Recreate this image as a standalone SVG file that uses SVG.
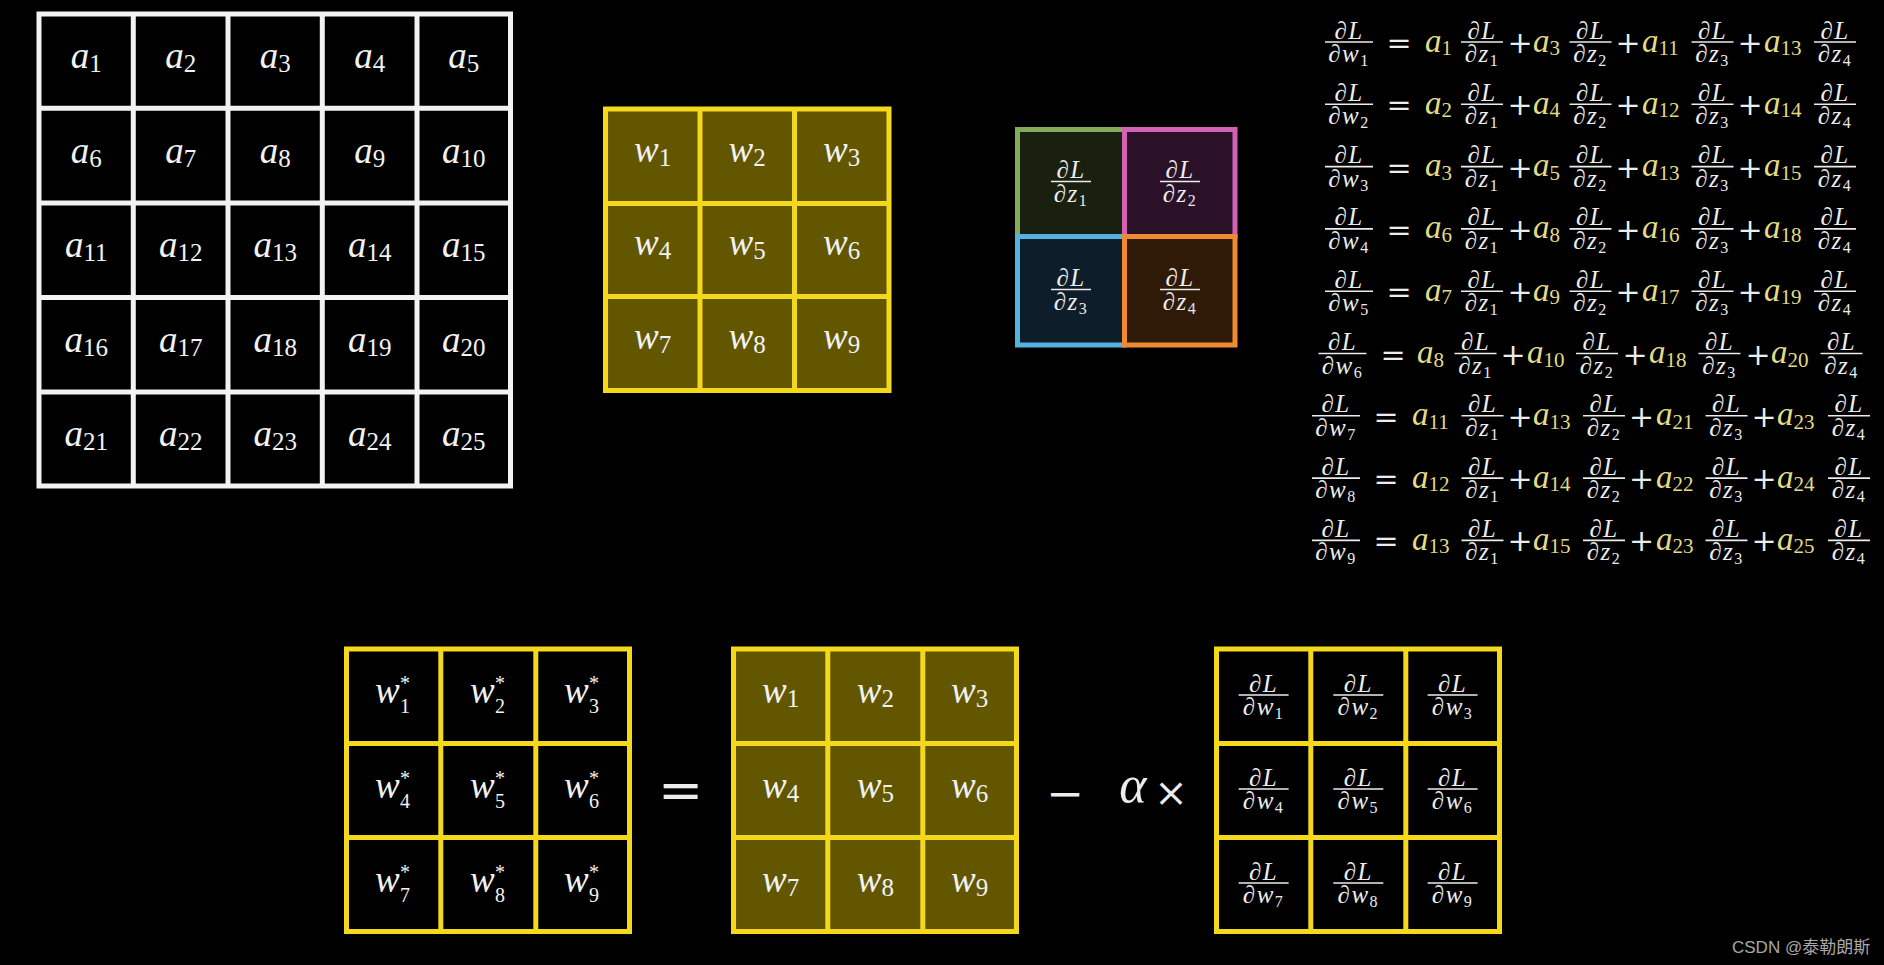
<svg xmlns="http://www.w3.org/2000/svg" width="1884" height="965" viewBox="0 0 1884 965">
<style>
.gl{font-family:"Liberation Serif","Times New Roman",serif;font-style:italic;font-size:37px;fill:#f2f2f2;text-anchor:middle}
.st{text-anchor:start}
.gs{font-style:normal;font-size:25px}
.ast{font-style:normal;font-size:20px}
.sd{font-style:normal;font-size:20px}
.fn,.fd{font-family:"Liberation Serif","Times New Roman",serif;font-style:italic;font-size:25px;fill:#ececec;text-anchor:middle;letter-spacing:1.5px}
.fs{font-style:normal;font-size:16px}
.fl{stroke:#ececec;stroke-width:1.6}
.at{font-family:"Liberation Serif","Times New Roman",serif;font-style:italic;font-size:33px;fill:#e2dc86}
.as{font-style:normal;font-size:21px}
.op{font-family:"DejaVu Serif",serif;font-size:30px;fill:#ececec;text-anchor:middle}
.yg{stroke:#f4d81c;stroke-width:5;fill:none}
.ol{fill:#625700}
.wg{stroke:#f2f2f2;stroke-width:5;fill:none}
</style>
<rect width="1884" height="965" fill="#000"/>

<!-- A grid 5x5 -->
<g id="a-grid">
<rect x="39" y="14" width="471.5" height="472" fill="#000"/>
<path class="wg" d="M39 14H510.5V486H39Z M133.3 14V486 M228 14V486 M322.3 14V486 M417 14V486 M39 108.3H510.5 M39 203H510.5 M39 297.5H510.5 M39 392H510.5"/>
<g class="gl">
<text x="86.2" y="68">a<tspan class="gs" dy="4">1</tspan></text>
<text x="180.7" y="68">a<tspan class="gs" dy="4">2</tspan></text>
<text x="275.2" y="68">a<tspan class="gs" dy="4">3</tspan></text>
<text x="369.7" y="68">a<tspan class="gs" dy="4">4</tspan></text>
<text x="463.8" y="68">a<tspan class="gs" dy="4">5</tspan></text>
<text x="86.2" y="162.7">a<tspan class="gs" dy="4">6</tspan></text>
<text x="180.7" y="162.7">a<tspan class="gs" dy="4">7</tspan></text>
<text x="275.2" y="162.7">a<tspan class="gs" dy="4">8</tspan></text>
<text x="369.7" y="162.7">a<tspan class="gs" dy="4">9</tspan></text>
<text x="463.8" y="162.7">a<tspan class="gs" dy="4">10</tspan></text>
<text x="86.2" y="257.3">a<tspan class="gs" dy="4">11</tspan></text>
<text x="180.7" y="257.3">a<tspan class="gs" dy="4">12</tspan></text>
<text x="275.2" y="257.3">a<tspan class="gs" dy="4">13</tspan></text>
<text x="369.7" y="257.3">a<tspan class="gs" dy="4">14</tspan></text>
<text x="463.8" y="257.3">a<tspan class="gs" dy="4">15</tspan></text>
<text x="86.2" y="351.8">a<tspan class="gs" dy="4">16</tspan></text>
<text x="180.7" y="351.8">a<tspan class="gs" dy="4">17</tspan></text>
<text x="275.2" y="351.8">a<tspan class="gs" dy="4">18</tspan></text>
<text x="369.7" y="351.8">a<tspan class="gs" dy="4">19</tspan></text>
<text x="463.8" y="351.8">a<tspan class="gs" dy="4">20</tspan></text>
<text x="86.2" y="446">a<tspan class="gs" dy="4">21</tspan></text>
<text x="180.7" y="446">a<tspan class="gs" dy="4">22</tspan></text>
<text x="275.2" y="446">a<tspan class="gs" dy="4">23</tspan></text>
<text x="369.7" y="446">a<tspan class="gs" dy="4">24</tspan></text>
<text x="463.8" y="446">a<tspan class="gs" dy="4">25</tspan></text>
</g>
</g>

<!-- W grid top -->
<g id="w-grid-top">
<rect class="ol" x="605.5" y="109" width="283.5" height="281.5"/>
<path class="yg" d="M605.5 109H889V390.5H605.5Z M700 109V390.5 M794.5 109V390.5 M605.5 203.5H889 M605.5 296.5H889"/>
<g class="gl">
<text x="652.7" y="161.5">w<tspan class="gs" dy="4">1</tspan></text>
<text x="747.2" y="161.5">w<tspan class="gs" dy="4">2</tspan></text>
<text x="841.7" y="161.5">w<tspan class="gs" dy="4">3</tspan></text>
<text x="652.7" y="255">w<tspan class="gs" dy="4">4</tspan></text>
<text x="747.2" y="255">w<tspan class="gs" dy="4">5</tspan></text>
<text x="841.7" y="255">w<tspan class="gs" dy="4">6</tspan></text>
<text x="652.7" y="348.5">w<tspan class="gs" dy="4">7</tspan></text>
<text x="747.2" y="348.5">w<tspan class="gs" dy="4">8</tspan></text>
<text x="841.7" y="348.5">w<tspan class="gs" dy="4">9</tspan></text>
</g>
</g>

<!-- dL/dz grid -->
<g id="dz-grid">
<rect x="1017.5" y="129.5" width="107" height="107" fill="#19200f" stroke="#84aa5c" stroke-width="5"/>
<rect x="1124.5" y="129.5" width="110.5" height="107" fill="#2a1127" stroke="#d262b4" stroke-width="5"/>
<rect x="1017.5" y="236.5" width="107" height="108.5" fill="#0d1e2a" stroke="#55b2e0" stroke-width="5"/>
<rect x="1124.5" y="236.5" width="110.5" height="108.5" fill="#2f1a08" stroke="#f08a30" stroke-width="5"/>
<g transform="translate(1071 181.5)"><text class="fn" y="-3.5">∂L</text><line class="fl" x1="-20" x2="20"/><text class="fd" y="20">∂z<tspan class="fs" dy="4">1</tspan></text></g>
<g transform="translate(1180 181.5)"><text class="fn" y="-3.5">∂L</text><line class="fl" x1="-20" x2="20"/><text class="fd" y="20">∂z<tspan class="fs" dy="4">2</tspan></text></g>
<g transform="translate(1071 289.5)"><text class="fn" y="-3.5">∂L</text><line class="fl" x1="-20" x2="20"/><text class="fd" y="20">∂z<tspan class="fs" dy="4">3</tspan></text></g>
<g transform="translate(1180 289.5)"><text class="fn" y="-3.5">∂L</text><line class="fl" x1="-20" x2="20"/><text class="fd" y="20">∂z<tspan class="fs" dy="4">4</tspan></text></g>
</g>

<!-- Equations -->
<g id="equations">
<g id="eq1" transform="translate(0 42)">
<g transform="translate(1349 0)"><text class="fn" y="-3.5">∂L</text><line class="fl" x1="-24" x2="24"/><text class="fd" y="20">∂w<tspan class="fs" dy="4">1</tspan></text></g>
<text class="op" x="1399" y="11">=</text>
<text class="at" x="1425" y="9.5">a<tspan class="as" dy="3.5">1</tspan></text>
<g transform="translate(1482 0)"><text class="fn" y="-3.5">∂L</text><line class="fl" x1="-21" x2="21"/><text class="fd" y="20">∂z<tspan class="fs" dy="4">1</tspan></text></g>
<text class="op" x="1520" y="11">+</text>
<text class="at" x="1533" y="9.5">a<tspan class="as" dy="3.5">3</tspan></text>
<g transform="translate(1590.5 0)"><text class="fn" y="-3.5">∂L</text><line class="fl" x1="-21" x2="21"/><text class="fd" y="20">∂z<tspan class="fs" dy="4">2</tspan></text></g>
<text class="op" x="1628" y="11">+</text>
<text class="at" x="1642" y="9.5">a<tspan class="as" dy="3.5">11</tspan></text>
<g transform="translate(1712.5 0)"><text class="fn" y="-3.5">∂L</text><line class="fl" x1="-21" x2="21"/><text class="fd" y="20">∂z<tspan class="fs" dy="4">3</tspan></text></g>
<text class="op" x="1750" y="11">+</text>
<text class="at" x="1764" y="9.5">a<tspan class="as" dy="3.5">13</tspan></text>
<g transform="translate(1835 0)"><text class="fn" y="-3.5">∂L</text><line class="fl" x1="-21" x2="21"/><text class="fd" y="20">∂z<tspan class="fs" dy="4">4</tspan></text></g>
</g>
<g id="eq2" transform="translate(0 104.3)">
<g transform="translate(1349 0)"><text class="fn" y="-3.5">∂L</text><line class="fl" x1="-24" x2="24"/><text class="fd" y="20">∂w<tspan class="fs" dy="4">2</tspan></text></g>
<text class="op" x="1399" y="11">=</text>
<text class="at" x="1425" y="9.5">a<tspan class="as" dy="3.5">2</tspan></text>
<g transform="translate(1482 0)"><text class="fn" y="-3.5">∂L</text><line class="fl" x1="-21" x2="21"/><text class="fd" y="20">∂z<tspan class="fs" dy="4">1</tspan></text></g>
<text class="op" x="1520" y="11">+</text>
<text class="at" x="1533" y="9.5">a<tspan class="as" dy="3.5">4</tspan></text>
<g transform="translate(1590.5 0)"><text class="fn" y="-3.5">∂L</text><line class="fl" x1="-21" x2="21"/><text class="fd" y="20">∂z<tspan class="fs" dy="4">2</tspan></text></g>
<text class="op" x="1628" y="11">+</text>
<text class="at" x="1642" y="9.5">a<tspan class="as" dy="3.5">12</tspan></text>
<g transform="translate(1712.5 0)"><text class="fn" y="-3.5">∂L</text><line class="fl" x1="-21" x2="21"/><text class="fd" y="20">∂z<tspan class="fs" dy="4">3</tspan></text></g>
<text class="op" x="1750" y="11">+</text>
<text class="at" x="1764" y="9.5">a<tspan class="as" dy="3.5">14</tspan></text>
<g transform="translate(1835 0)"><text class="fn" y="-3.5">∂L</text><line class="fl" x1="-21" x2="21"/><text class="fd" y="20">∂z<tspan class="fs" dy="4">4</tspan></text></g>
</g>
<g id="eq3" transform="translate(0 166.6)">
<g transform="translate(1349 0)"><text class="fn" y="-3.5">∂L</text><line class="fl" x1="-24" x2="24"/><text class="fd" y="20">∂w<tspan class="fs" dy="4">3</tspan></text></g>
<text class="op" x="1399" y="11">=</text>
<text class="at" x="1425" y="9.5">a<tspan class="as" dy="3.5">3</tspan></text>
<g transform="translate(1482 0)"><text class="fn" y="-3.5">∂L</text><line class="fl" x1="-21" x2="21"/><text class="fd" y="20">∂z<tspan class="fs" dy="4">1</tspan></text></g>
<text class="op" x="1520" y="11">+</text>
<text class="at" x="1533" y="9.5">a<tspan class="as" dy="3.5">5</tspan></text>
<g transform="translate(1590.5 0)"><text class="fn" y="-3.5">∂L</text><line class="fl" x1="-21" x2="21"/><text class="fd" y="20">∂z<tspan class="fs" dy="4">2</tspan></text></g>
<text class="op" x="1628" y="11">+</text>
<text class="at" x="1642" y="9.5">a<tspan class="as" dy="3.5">13</tspan></text>
<g transform="translate(1712.5 0)"><text class="fn" y="-3.5">∂L</text><line class="fl" x1="-21" x2="21"/><text class="fd" y="20">∂z<tspan class="fs" dy="4">3</tspan></text></g>
<text class="op" x="1750" y="11">+</text>
<text class="at" x="1764" y="9.5">a<tspan class="as" dy="3.5">15</tspan></text>
<g transform="translate(1835 0)"><text class="fn" y="-3.5">∂L</text><line class="fl" x1="-21" x2="21"/><text class="fd" y="20">∂z<tspan class="fs" dy="4">4</tspan></text></g>
</g>
<g id="eq4" transform="translate(0 228.9)">
<g transform="translate(1349 0)"><text class="fn" y="-3.5">∂L</text><line class="fl" x1="-24" x2="24"/><text class="fd" y="20">∂w<tspan class="fs" dy="4">4</tspan></text></g>
<text class="op" x="1399" y="11">=</text>
<text class="at" x="1425" y="9.5">a<tspan class="as" dy="3.5">6</tspan></text>
<g transform="translate(1482 0)"><text class="fn" y="-3.5">∂L</text><line class="fl" x1="-21" x2="21"/><text class="fd" y="20">∂z<tspan class="fs" dy="4">1</tspan></text></g>
<text class="op" x="1520" y="11">+</text>
<text class="at" x="1533" y="9.5">a<tspan class="as" dy="3.5">8</tspan></text>
<g transform="translate(1590.5 0)"><text class="fn" y="-3.5">∂L</text><line class="fl" x1="-21" x2="21"/><text class="fd" y="20">∂z<tspan class="fs" dy="4">2</tspan></text></g>
<text class="op" x="1628" y="11">+</text>
<text class="at" x="1642" y="9.5">a<tspan class="as" dy="3.5">16</tspan></text>
<g transform="translate(1712.5 0)"><text class="fn" y="-3.5">∂L</text><line class="fl" x1="-21" x2="21"/><text class="fd" y="20">∂z<tspan class="fs" dy="4">3</tspan></text></g>
<text class="op" x="1750" y="11">+</text>
<text class="at" x="1764" y="9.5">a<tspan class="as" dy="3.5">18</tspan></text>
<g transform="translate(1835 0)"><text class="fn" y="-3.5">∂L</text><line class="fl" x1="-21" x2="21"/><text class="fd" y="20">∂z<tspan class="fs" dy="4">4</tspan></text></g>
</g>
<g id="eq5" transform="translate(0 291.2)">
<g transform="translate(1349 0)"><text class="fn" y="-3.5">∂L</text><line class="fl" x1="-24" x2="24"/><text class="fd" y="20">∂w<tspan class="fs" dy="4">5</tspan></text></g>
<text class="op" x="1399" y="11">=</text>
<text class="at" x="1425" y="9.5">a<tspan class="as" dy="3.5">7</tspan></text>
<g transform="translate(1482 0)"><text class="fn" y="-3.5">∂L</text><line class="fl" x1="-21" x2="21"/><text class="fd" y="20">∂z<tspan class="fs" dy="4">1</tspan></text></g>
<text class="op" x="1520" y="11">+</text>
<text class="at" x="1533" y="9.5">a<tspan class="as" dy="3.5">9</tspan></text>
<g transform="translate(1590.5 0)"><text class="fn" y="-3.5">∂L</text><line class="fl" x1="-21" x2="21"/><text class="fd" y="20">∂z<tspan class="fs" dy="4">2</tspan></text></g>
<text class="op" x="1628" y="11">+</text>
<text class="at" x="1642" y="9.5">a<tspan class="as" dy="3.5">17</tspan></text>
<g transform="translate(1712.5 0)"><text class="fn" y="-3.5">∂L</text><line class="fl" x1="-21" x2="21"/><text class="fd" y="20">∂z<tspan class="fs" dy="4">3</tspan></text></g>
<text class="op" x="1750" y="11">+</text>
<text class="at" x="1764" y="9.5">a<tspan class="as" dy="3.5">19</tspan></text>
<g transform="translate(1835 0)"><text class="fn" y="-3.5">∂L</text><line class="fl" x1="-21" x2="21"/><text class="fd" y="20">∂z<tspan class="fs" dy="4">4</tspan></text></g>
</g>
<g id="eq6" transform="translate(0 353.5)">
<g transform="translate(1342.5 0)"><text class="fn" y="-3.5">∂L</text><line class="fl" x1="-24" x2="24"/><text class="fd" y="20">∂w<tspan class="fs" dy="4">6</tspan></text></g>
<text class="op" x="1393" y="11">=</text>
<text class="at" x="1417" y="9.5">a<tspan class="as" dy="3.5">8</tspan></text>
<g transform="translate(1475.5 0)"><text class="fn" y="-3.5">∂L</text><line class="fl" x1="-21" x2="21"/><text class="fd" y="20">∂z<tspan class="fs" dy="4">1</tspan></text></g>
<text class="op" x="1513" y="11">+</text>
<text class="at" x="1527" y="9.5">a<tspan class="as" dy="3.5">10</tspan></text>
<g transform="translate(1597 0)"><text class="fn" y="-3.5">∂L</text><line class="fl" x1="-21" x2="21"/><text class="fd" y="20">∂z<tspan class="fs" dy="4">2</tspan></text></g>
<text class="op" x="1635" y="11">+</text>
<text class="at" x="1649" y="9.5">a<tspan class="as" dy="3.5">18</tspan></text>
<g transform="translate(1719.5 0)"><text class="fn" y="-3.5">∂L</text><line class="fl" x1="-21" x2="21"/><text class="fd" y="20">∂z<tspan class="fs" dy="4">3</tspan></text></g>
<text class="op" x="1758" y="11">+</text>
<text class="at" x="1771" y="9.5">a<tspan class="as" dy="3.5">20</tspan></text>
<g transform="translate(1841.5 0)"><text class="fn" y="-3.5">∂L</text><line class="fl" x1="-21" x2="21"/><text class="fd" y="20">∂z<tspan class="fs" dy="4">4</tspan></text></g>
</g>
<g id="eq7" transform="translate(0 415.8)">
<g transform="translate(1336 0)"><text class="fn" y="-3.5">∂L</text><line class="fl" x1="-24" x2="24"/><text class="fd" y="20">∂w<tspan class="fs" dy="4">7</tspan></text></g>
<text class="op" x="1386" y="11">=</text>
<text class="at" x="1412" y="9.5">a<tspan class="as" dy="3.5">11</tspan></text>
<g transform="translate(1482.5 0)"><text class="fn" y="-3.5">∂L</text><line class="fl" x1="-21" x2="21"/><text class="fd" y="20">∂z<tspan class="fs" dy="4">1</tspan></text></g>
<text class="op" x="1520" y="11">+</text>
<text class="at" x="1533" y="9.5">a<tspan class="as" dy="3.5">13</tspan></text>
<g transform="translate(1604 0)"><text class="fn" y="-3.5">∂L</text><line class="fl" x1="-21" x2="21"/><text class="fd" y="20">∂z<tspan class="fs" dy="4">2</tspan></text></g>
<text class="op" x="1641.5" y="11">+</text>
<text class="at" x="1656" y="9.5">a<tspan class="as" dy="3.5">21</tspan></text>
<g transform="translate(1726.5 0)"><text class="fn" y="-3.5">∂L</text><line class="fl" x1="-21" x2="21"/><text class="fd" y="20">∂z<tspan class="fs" dy="4">3</tspan></text></g>
<text class="op" x="1764" y="11">+</text>
<text class="at" x="1777" y="9.5">a<tspan class="as" dy="3.5">23</tspan></text>
<g transform="translate(1849 0)"><text class="fn" y="-3.5">∂L</text><line class="fl" x1="-21" x2="21"/><text class="fd" y="20">∂z<tspan class="fs" dy="4">4</tspan></text></g>
</g>
<g id="eq8" transform="translate(0 478.1)">
<g transform="translate(1336 0)"><text class="fn" y="-3.5">∂L</text><line class="fl" x1="-24" x2="24"/><text class="fd" y="20">∂w<tspan class="fs" dy="4">8</tspan></text></g>
<text class="op" x="1386" y="11">=</text>
<text class="at" x="1412" y="9.5">a<tspan class="as" dy="3.5">12</tspan></text>
<g transform="translate(1482.5 0)"><text class="fn" y="-3.5">∂L</text><line class="fl" x1="-21" x2="21"/><text class="fd" y="20">∂z<tspan class="fs" dy="4">1</tspan></text></g>
<text class="op" x="1520" y="11">+</text>
<text class="at" x="1533" y="9.5">a<tspan class="as" dy="3.5">14</tspan></text>
<g transform="translate(1604 0)"><text class="fn" y="-3.5">∂L</text><line class="fl" x1="-21" x2="21"/><text class="fd" y="20">∂z<tspan class="fs" dy="4">2</tspan></text></g>
<text class="op" x="1641.5" y="11">+</text>
<text class="at" x="1656" y="9.5">a<tspan class="as" dy="3.5">22</tspan></text>
<g transform="translate(1726.5 0)"><text class="fn" y="-3.5">∂L</text><line class="fl" x1="-21" x2="21"/><text class="fd" y="20">∂z<tspan class="fs" dy="4">3</tspan></text></g>
<text class="op" x="1764" y="11">+</text>
<text class="at" x="1777" y="9.5">a<tspan class="as" dy="3.5">24</tspan></text>
<g transform="translate(1849 0)"><text class="fn" y="-3.5">∂L</text><line class="fl" x1="-21" x2="21"/><text class="fd" y="20">∂z<tspan class="fs" dy="4">4</tspan></text></g>
</g>
<g id="eq9" transform="translate(0 540.4)">
<g transform="translate(1336 0)"><text class="fn" y="-3.5">∂L</text><line class="fl" x1="-24" x2="24"/><text class="fd" y="20">∂w<tspan class="fs" dy="4">9</tspan></text></g>
<text class="op" x="1386" y="11">=</text>
<text class="at" x="1412" y="9.5">a<tspan class="as" dy="3.5">13</tspan></text>
<g transform="translate(1482.5 0)"><text class="fn" y="-3.5">∂L</text><line class="fl" x1="-21" x2="21"/><text class="fd" y="20">∂z<tspan class="fs" dy="4">1</tspan></text></g>
<text class="op" x="1520" y="11">+</text>
<text class="at" x="1533" y="9.5">a<tspan class="as" dy="3.5">15</tspan></text>
<g transform="translate(1604 0)"><text class="fn" y="-3.5">∂L</text><line class="fl" x1="-21" x2="21"/><text class="fd" y="20">∂z<tspan class="fs" dy="4">2</tspan></text></g>
<text class="op" x="1641.5" y="11">+</text>
<text class="at" x="1656" y="9.5">a<tspan class="as" dy="3.5">23</tspan></text>
<g transform="translate(1726.5 0)"><text class="fn" y="-3.5">∂L</text><line class="fl" x1="-21" x2="21"/><text class="fd" y="20">∂z<tspan class="fs" dy="4">3</tspan></text></g>
<text class="op" x="1764" y="11">+</text>
<text class="at" x="1777" y="9.5">a<tspan class="as" dy="3.5">25</tspan></text>
<g transform="translate(1849 0)"><text class="fn" y="-3.5">∂L</text><line class="fl" x1="-21" x2="21"/><text class="fd" y="20">∂z<tspan class="fs" dy="4">4</tspan></text></g>
</g>
</g>

<!-- W* grid -->
<g id="wstar-grid">
<rect x="346.5" y="649" width="283" height="282.5" fill="#000"/>
<path class="yg" d="M346.5 649H629.5V931.5H346.5Z M440.8 649V931.5 M535.8 649V931.5 M346.5 743.5H629.5 M346.5 837.5H629.5"/>
<g class="gl st">
<text y="703"><tspan x="375">w</tspan><tspan class="ast" x="400" y="690">*</tspan><tspan class="sd" x="400" y="713">1</tspan></text>
<text y="703"><tspan x="470">w</tspan><tspan class="ast" x="495" y="690">*</tspan><tspan class="sd" x="495" y="713">2</tspan></text>
<text y="703"><tspan x="564">w</tspan><tspan class="ast" x="589" y="690">*</tspan><tspan class="sd" x="589" y="713">3</tspan></text>
<text y="797.5"><tspan x="375">w</tspan><tspan class="ast" x="400" y="784.5">*</tspan><tspan class="sd" x="400" y="807.5">4</tspan></text>
<text y="797.5"><tspan x="470">w</tspan><tspan class="ast" x="495" y="784.5">*</tspan><tspan class="sd" x="495" y="807.5">5</tspan></text>
<text y="797.5"><tspan x="564">w</tspan><tspan class="ast" x="589" y="784.5">*</tspan><tspan class="sd" x="589" y="807.5">6</tspan></text>
<text y="891.5"><tspan x="375">w</tspan><tspan class="ast" x="400" y="878.5">*</tspan><tspan class="sd" x="400" y="901.5">7</tspan></text>
<text y="891.5"><tspan x="470">w</tspan><tspan class="ast" x="495" y="878.5">*</tspan><tspan class="sd" x="495" y="901.5">8</tspan></text>
<text y="891.5"><tspan x="564">w</tspan><tspan class="ast" x="589" y="878.5">*</tspan><tspan class="sd" x="589" y="901.5">9</tspan></text>
</g>
</g>

<g id="equals"><text class="op" x="680.5" y="809" style="font-size:54px">=</text></g>

<!-- W grid bottom -->
<g id="w-grid-bottom">
<rect class="ol" x="733.5" y="649" width="283" height="282.5"/>
<path class="yg" d="M733.5 649H1016.5V931.5H733.5Z M827.8 649V931.5 M922.8 649V931.5 M733.5 743.5H1016.5 M733.5 837.5H1016.5"/>
<g class="gl">
<text x="780.6" y="703">w<tspan class="gs" dy="4">1</tspan></text>
<text x="875.3" y="703">w<tspan class="gs" dy="4">2</tspan></text>
<text x="969.6" y="703">w<tspan class="gs" dy="4">3</tspan></text>
<text x="780.6" y="797.5">w<tspan class="gs" dy="4">4</tspan></text>
<text x="875.3" y="797.5">w<tspan class="gs" dy="4">5</tspan></text>
<text x="969.6" y="797.5">w<tspan class="gs" dy="4">6</tspan></text>
<text x="780.6" y="891.5">w<tspan class="gs" dy="4">7</tspan></text>
<text x="875.3" y="891.5">w<tspan class="gs" dy="4">8</tspan></text>
<text x="969.6" y="891.5">w<tspan class="gs" dy="4">9</tspan></text>
</g>
</g>

<g id="minus-alpha">
<text class="op" x="1065" y="809" style="font-size:45px">−</text>
<text x="1133" y="802" style="font-family:'Liberation Serif','Times New Roman',serif;font-style:italic;font-size:52px;fill:#ececec;text-anchor:middle">α</text>
<text class="op" x="1171" y="806" style="font-size:40px">×</text>
</g>

<!-- dL/dw grid -->
<g id="dw-grid">
<rect x="1216.5" y="649" width="283" height="282.5" fill="#000"/>
<path class="yg" d="M1216.5 649H1499.5V931.5H1216.5Z M1310.8 649V931.5 M1405.8 649V931.5 M1216.5 743.5H1499.5 M1216.5 837.5H1499.5"/>
<g transform="translate(1263.6 695)"><text class="fn" y="-3.5">∂L</text><line class="fl" x1="-25" x2="25"/><text class="fd" y="20">∂w<tspan class="fs" dy="4">1</tspan></text></g>
<g transform="translate(1358.3 695)"><text class="fn" y="-3.5">∂L</text><line class="fl" x1="-25" x2="25"/><text class="fd" y="20">∂w<tspan class="fs" dy="4">2</tspan></text></g>
<g transform="translate(1452.6 695)"><text class="fn" y="-3.5">∂L</text><line class="fl" x1="-25" x2="25"/><text class="fd" y="20">∂w<tspan class="fs" dy="4">3</tspan></text></g>
<g transform="translate(1263.6 789)"><text class="fn" y="-3.5">∂L</text><line class="fl" x1="-25" x2="25"/><text class="fd" y="20">∂w<tspan class="fs" dy="4">4</tspan></text></g>
<g transform="translate(1358.3 789)"><text class="fn" y="-3.5">∂L</text><line class="fl" x1="-25" x2="25"/><text class="fd" y="20">∂w<tspan class="fs" dy="4">5</tspan></text></g>
<g transform="translate(1452.6 789)"><text class="fn" y="-3.5">∂L</text><line class="fl" x1="-25" x2="25"/><text class="fd" y="20">∂w<tspan class="fs" dy="4">6</tspan></text></g>
<g transform="translate(1263.6 883)"><text class="fn" y="-3.5">∂L</text><line class="fl" x1="-25" x2="25"/><text class="fd" y="20">∂w<tspan class="fs" dy="4">7</tspan></text></g>
<g transform="translate(1358.3 883)"><text class="fn" y="-3.5">∂L</text><line class="fl" x1="-25" x2="25"/><text class="fd" y="20">∂w<tspan class="fs" dy="4">8</tspan></text></g>
<g transform="translate(1452.6 883)"><text class="fn" y="-3.5">∂L</text><line class="fl" x1="-25" x2="25"/><text class="fd" y="20">∂w<tspan class="fs" dy="4">9</tspan></text></g>
</g>

<g id="watermark"><text x="1732" y="953" style="font-family:'Liberation Sans','Noto Sans CJK SC',sans-serif;font-size:17px;fill:#a8a8a8">CSDN @泰勒朗斯</text></g>
</svg>
